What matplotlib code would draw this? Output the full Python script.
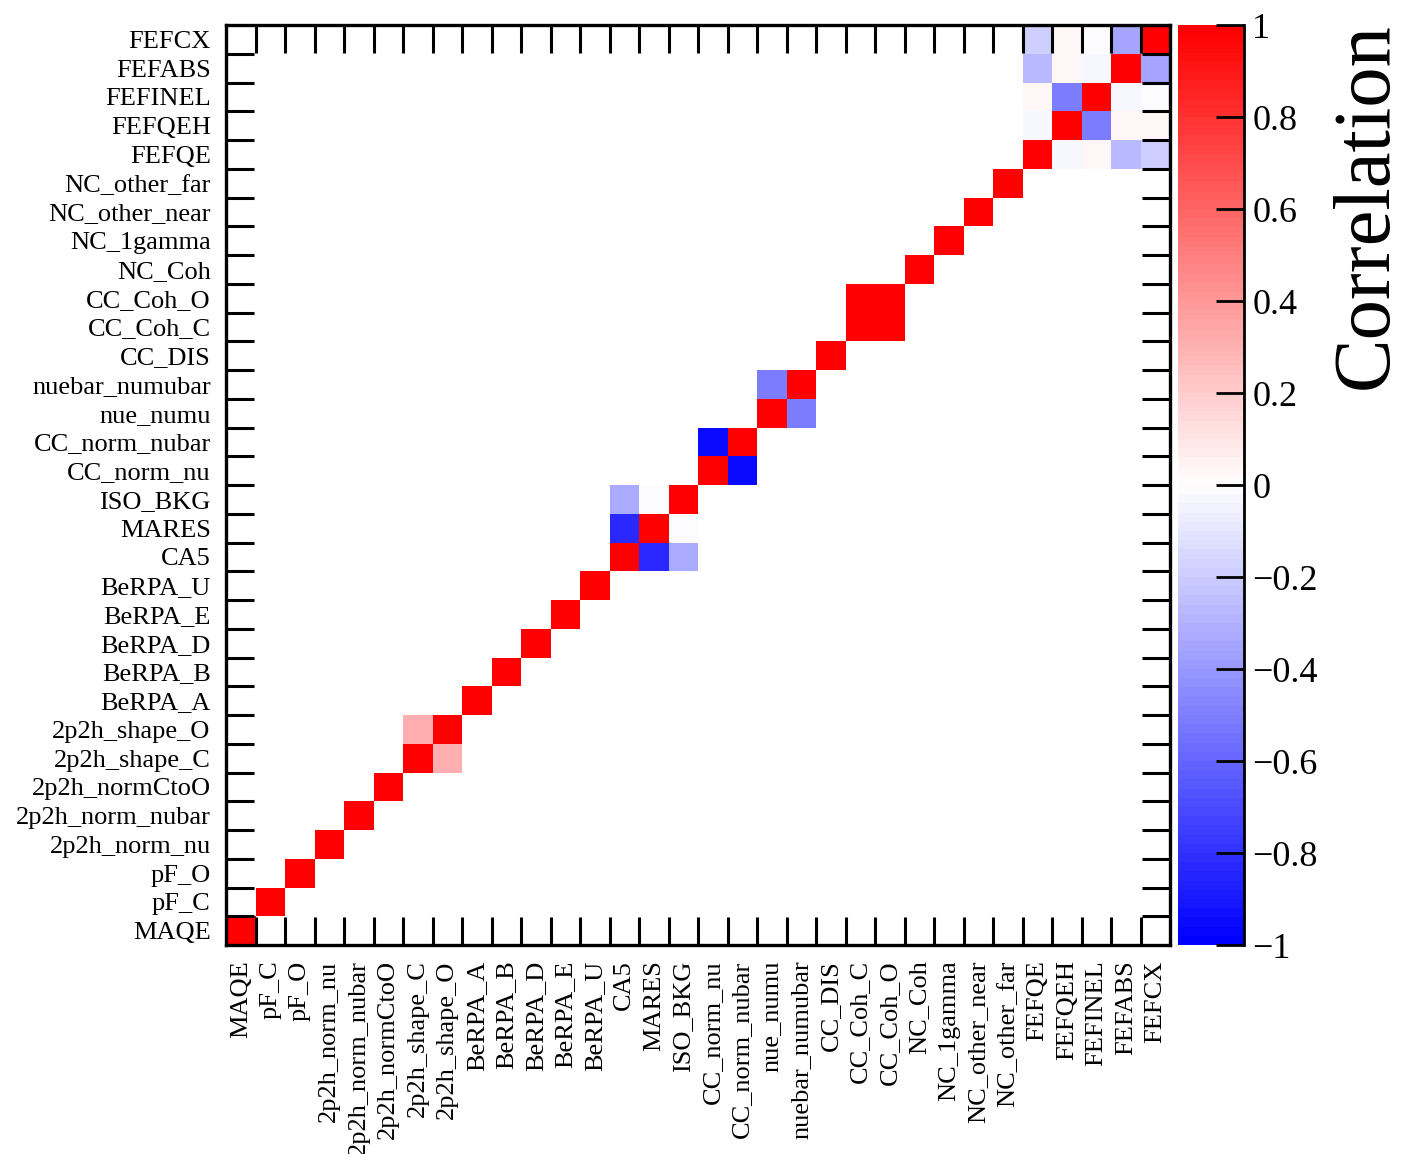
import numpy as np
import matplotlib
matplotlib.use('Agg')
import matplotlib.pyplot as plt

plt.rcParams['font.family'] = ['Liberation Serif', 'DejaVu Serif']

# 参数名（从下到上 / 从左到右）
params = ['MAQE', 'pF_C', 'pF_O', '2p2h_norm_nu', '2p2h_norm_nubar', '2p2h_normCtoO',
          '2p2h_shape_C', '2p2h_shape_O', 'BeRPA_A', 'BeRPA_B', 'BeRPA_D', 'BeRPA_E',
          'BeRPA_U', 'CA5', 'MARES', 'ISO_BKG', 'CC_norm_nu', 'CC_norm_nubar',
          'nue_numu', 'nuebar_numubar', 'CC_DIS', 'CC_Coh_C', 'CC_Coh_O', 'NC_Coh',
          'NC_1gamma', 'NC_other_near', 'NC_other_far', 'FEFQE', 'FEFQEH', 'FEFINEL',
          'FEFABS', 'FEFCX']

# 非对角相关系数 (参数1, 参数2, 相关系数)
pairs = [
    ('2p2h_shape_C', '2p2h_shape_O', 0.31),
    ('CA5', 'MARES', -0.84),
    ('CA5', 'ISO_BKG', -0.33),
    ('MARES', 'ISO_BKG', -0.02),
    ('CC_norm_nu', 'CC_norm_nubar', -0.95),
    ('nue_numu', 'nuebar_numubar', -0.52),
    ('CC_Coh_C', 'CC_Coh_O', 1.0),
    ('FEFQE', 'FEFQEH', -0.04),
    ('FEFQE', 'FEFINEL', 0.03),
    ('FEFQE', 'FEFABS', -0.28),
    ('FEFQE', 'FEFCX', -0.2),
    ('FEFQEH', 'FEFINEL', -0.52),
    ('FEFQEH', 'FEFABS', 0.03),
    ('FEFQEH', 'FEFCX', 0.02),
    ('FEFINEL', 'FEFABS', -0.04),
    ('FEFINEL', 'FEFCX', -0.02),
    ('FEFABS', 'FEFCX', -0.35),
]

n = len(params)
corr = np.eye(n)
idx = {p: i for i, p in enumerate(params)}
for a, b, v in pairs:
    corr[idx[a], idx[b]] = v
    corr[idx[b], idx[a]] = v

cbar_ticks = [-1, -0.8, -0.6, -0.4, -0.2, 0, 0.2, 0.4, 0.6, 0.8, 1]
cbar_labels = ['\u22121', '\u22120.8', '\u22120.6', '\u22120.4', '\u22120.2', '0',
               '0.2', '0.4', '0.6', '0.8', '1']

W, H = 1405, 1154
fig = plt.figure(figsize=(W / 100, H / 100), dpi=100)
ax = fig.add_axes([226 / W, 1 - 945 / H, (1170 - 226) / W, (945 - 25) / H])

cmap = plt.get_cmap('bwr', 100)
edges = np.arange(n + 1)
# 为 0 的格子不画（留白）
mesh = ax.pcolormesh(edges, edges, np.ma.masked_equal(corr, 0), cmap=cmap, vmin=-1, vmax=1)
ax.set_xlim(0, n)
ax.set_ylim(0, n)

# 标签放在格子中心，刻度线放在格子边界
centers = np.arange(n) + 0.5
ax.set_xticks(centers)
ax.set_yticks(centers)
ax.set_xticklabels(params, rotation=90, fontsize=19)
ax.set_yticklabels(params, fontsize=19)
ax.tick_params(which='major', length=0, pad=11)
ax.set_xticks(edges[1:-1], minor=True)
ax.set_yticks(edges[1:-1], minor=True)
ax.tick_params(which='minor', direction='in', length=20, width=2.2,
               top=True, right=True, bottom=True, left=True)
for s in ax.spines.values():
    s.set_linewidth(2.4)

# 色标
cax = fig.add_axes([1178 / W, 1 - 945 / H, (1244 - 1178) / W, (945 - 25) / H])
cb = fig.colorbar(mesh, cax=cax)
cb.outline.set_visible(False)
cb.set_ticks(cbar_ticks)
cb.set_ticklabels(cbar_labels)
cax.tick_params(direction='in', length=20, width=2, labelsize=26, pad=6)
cax.plot([1, 1], [0, 1], transform=cax.transAxes, color='k', lw=2, clip_on=False)

fig.text(1367 / W, 1 - 22 / H, 'Correlation', rotation=90, ha='center', va='top', fontsize=58)

fig.savefig('out.png', dpi=100)
